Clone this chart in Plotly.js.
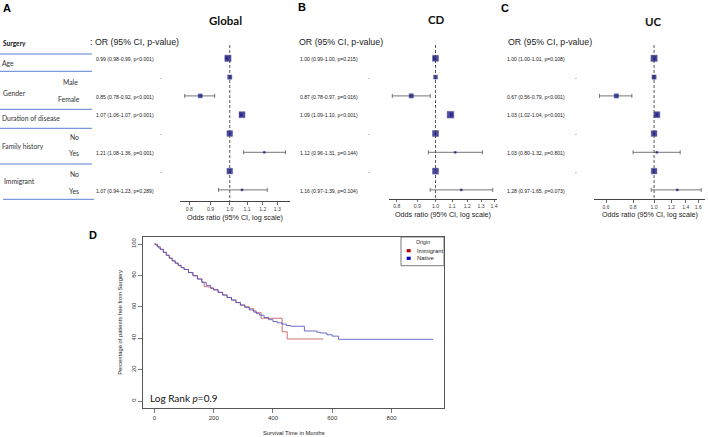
<!DOCTYPE html>
<html><head><meta charset="utf-8">
<script src="https://cdn.plot.ly/plotly-3.0.1.min.js"></script>
<style>html,body{margin:0;padding:0;background:#fff}#chart{width:708px;height:437px}</style>
</head><body><div id="chart"></div>
<script>
// ---------------- DATA ----------------
const tableGroups = ['Age', 'Gender', 'Duration of disease', 'Family history', 'Immigrant'];
const tableLevels = ['Male', 'Female', 'No', 'Yes', 'No', 'Yes'];
const headerText = 'OR (95% CI, p-value)';

const orGlobal = [0.99, 1.00, 0.85, 1.07, 1.00, 1.21, 1.00, 1.07];
const loGlobal = [0.98, null, 0.78, 1.06, null, 1.08, null, 0.94];
const hiGlobal = [0.99, null, 0.92, 1.07, null, 1.36, null, 1.23];
const pGlobal  = ['p<0.001', null, 'p<0.001', 'p<0.001', null, 'p=0.001', null, 'p=0.289'];

const orCD = [1.00, 1.00, 0.87, 1.09, 1.00, 1.12, 1.00, 1.16];
const loCD = [0.99, null, 0.78, 1.09, null, 0.96, null, 0.97];
const hiCD = [1.00, null, 0.97, 1.10, null, 1.31, null, 1.39];
const pCD  = ['p=0.215', null, 'p=0.016', 'p<0.001', null, 'p=0.144', null, 'p=0.104'];

const orUC = [1.00, 1.00, 0.67, 1.03, 1.00, 1.03, 1.00, 1.28];
const loUC = [1.00, null, 0.56, 1.02, null, 0.80, null, 0.97];
const hiUC = [1.01, null, 0.79, 1.04, null, 1.32, null, 1.65];
const pUC  = ['p=0.108', null, 'p<0.001', 'p<0.001', null, 'p=0.801', null, 'p=0.073'];

const ticksGlobal = [0.8, 0.9, 1.0, 1.1, 1.2, 1.3];
const ticksCD = [0.8, 0.9, 1.0, 1.1, 1.2, 1.3, 1.4];
const ticksUC = [0.6, 0.8, 1.0, 1.2, 1.4, 1.6];

const nativeT = [0,5,10,15,20,30,40,50,60,70,80,90,100,115,130,145,160,175,190,200,215,230,245,260,275,290,305,320,335,345,355,370,385,400,415,430,445,460,506,548,560,582,600,621,941];
const nativeS = [100,99.2,98.3,97.4,96.6,94.7,92.8,91.0,89.3,87.8,86.4,85.0,83.8,81.8,79.8,77.7,75.6,73.6,72.0,70.9,69.2,67.5,65.9,64.3,62.7,61.1,59.6,58.0,56.6,55.6,54.6,53.2,51.8,50.6,49.8,49.0,48.1,47.6,44.6,43.8,43.3,42.2,41.3,39.3,39.3];
const immT = [0,10,20,30,40,50,60,70,80,90,100,115,130,145,160,168,180,190,200,215,230,245,260,275,290,305,320,335,343,360,431,448,569];
const immS = [100,98.3,96.6,94.7,92.8,91.0,89.3,87.8,86.4,85.0,83.8,81.8,79.8,77.7,75.6,72.8,72.6,71.6,70.7,69.2,67.5,65.9,64.3,62.7,61.1,60.0,58.8,57.4,56.2,52.7,44.1,39.5,39.5];
const survXTicks = [0, 200, 400, 600, 800];
const survYTicks = [0, 20, 40, 60, 80, 100];
const originNames = ['Immigrant', 'Native'];

// ---------------- LAYOUT HELPERS ----------------
const W = 708, H = 437;
const PX = x => x / W;
const PY = y => 1 - y / H;
const rowPx0 = 58.3, rowStep = 18.8;
const rowIdx = orGlobal.map((_, i) => i);

const annotations = [];
const shapes = [];
function ann(text, x, y, o) {
  o = o || {};
  annotations.push(Object.assign({
    text: text, x: PX(x), y: PY(y), xref: 'paper', yref: 'paper',
    xanchor: 'left', yanchor: 'middle', showarrow: false, borderpad: 0,
    font: {family: 'Liberation Sans, Arial', size: 6, color: '#222'}
  }, o));
}

const panels = [
  {or: orGlobal, lo: loGlobal, hi: hiGlobal, p: pGlobal, ticks: ticksGlobal, ax: 'x', key: 'xaxis',
   dom: [180, 290], tA: [0.8, 189.3], tB: [1.3, 277.3], axisY: 201, title: 'Global', titleXY: [225, 21],
   letter: 'A', letterXY: [7, 8], header: ': ' + headerText, headerX: 89, valX: 95, dashX: 161,
   box: [6.3, 4.3, 4, 6, 5.7, 2, 5.7, 2], xtitleXY: [235, 217]},
  {or: orCD, lo: loCD, hi: hiCD, p: pCD, ticks: ticksCD, ax: 'x2', key: 'xaxis2',
   dom: [389.3, 496.7], tA: [0.8, 396.7], tB: [1.4, 494], axisY: 198.5, title: 'CD', titleXY: [436, 20],
   letter: 'B', letterXY: [301.7, 7], header: headerText, headerX: 298, valX: 299, dashX: 369,
   box: [6, 4, 4.3, 6.7, 6, 2, 6, 2], xtitleXY: [443, 214]},
  {or: orUC, lo: loUC, hi: hiUC, p: pUC, ticks: ticksUC, ax: 'x3', key: 'xaxis3',
   dom: [594, 705], tA: [0.6, 606], tB: [1.6, 698.3], axisY: 199.3, title: 'UC', titleXY: [653.3, 22],
   letter: 'C', letterXY: [505, 8], header: headerText, headerX: 506.5, valX: 506, dashX: 575.7,
   box: [6.3, 4.3, 4.3, 6, 5.7, 2, 5.7, 2], xtitleXY: [649.7, 214]}
];

const traces = [];
const layout = {
  width: W, height: H, margin: {l: 0, r: 0, t: 0, b: 0},
  paper_bgcolor: '#fff', plot_bgcolor: 'rgba(0,0,0,0)', showlegend: false,
  font: {family: 'Liberation Sans, Arial', color: '#222'},
  yaxis: {domain: [0, 1], range: [(H - rowPx0) / rowStep, -rowPx0 / rowStep], visible: false, fixedrange: true}
};

panels.forEach(pn => {
  const dec = (pn.tB[1] - pn.tA[1]) / (Math.log10(pn.tB[0]) - Math.log10(pn.tA[0]));
  const r0 = Math.log10(pn.tA[0]) - (pn.tA[1] - pn.dom[0]) / dec;
  const r1 = Math.log10(pn.tB[0]) + (pn.dom[1] - pn.tB[1]) / dec;
  layout[pn.key] = {
    type: 'log', range: [r0, r1], domain: [PX(pn.dom[0]), PX(pn.dom[1])],
    anchor: 'free', position: PY(pn.axisY), showline: true, linecolor: '#444', linewidth: 1,
    ticks: 'outside', ticklen: 2.5, tickwidth: 0.8, tickcolor: '#444',
    tickvals: pn.ticks, ticktext: pn.ticks.map(v => v.toFixed(1)),
    tickfont: {size: 5.1, color: '#444'}, showgrid: false, zeroline: false, fixedrange: true
  };
  traces.push({
    type: 'scatter', mode: 'markers', x: pn.or, y: rowIdx, xaxis: pn.ax, yaxis: 'y',
    marker: {symbol: 'square', size: pn.box, color: '#000080', line: {color: '#000060', width: 0.4}},
    error_x: {type: 'data', symmetric: false,
      array: pn.or.map((v, i) => pn.hi[i] == null ? 0 : pn.hi[i] - v),
      arrayminus: pn.or.map((v, i) => pn.lo[i] == null ? 0 : v - pn.lo[i]),
      color: '#666', thickness: 0.9, width: 2},
    hoverinfo: 'skip', cliponaxis: false
  });
  shapes.push({type: 'line', xref: pn.ax, yref: 'paper', x0: 1, x1: 1, y0: PY(45), y1: PY(pn.axisY),
    line: {color: '#444', width: 0.9, dash: '3px,2px'}});
  ann('<b>' + pn.title + '</b>', pn.titleXY[0], pn.titleXY[1], {xanchor: 'center', font: {family: 'Lato', size: 11.5, color: '#111'}});
  ann('<b>' + pn.letter + '</b>', pn.letterXY[0], pn.letterXY[1], {xanchor: 'center', font: {family: 'Liberation Sans, Arial', size: 11, color: '#000'}});
  ann(pn.header, pn.headerX, 42, {font: {family: 'Liberation Sans, Arial', size: 8.8, color: '#222'}});
  ann('Odds ratio (95% CI, log scale)', pn.xtitleXY[0], pn.xtitleXY[1], {xanchor: 'center', font: {family: 'Liberation Sans, Arial', size: 7.2, color: '#222'}});
  pn.or.forEach((v, i) => {
    const yy = rowPx0 + rowStep * i + 0.7;
    if (pn.lo[i] == null) {
      ann('-', pn.dashX, yy, {xanchor: 'center', font: {family: 'Liberation Sans, Arial', size: 5.2, color: '#222'}});
    } else {
      const t = v.toFixed(2) + ' (' + pn.lo[i].toFixed(2) + '-' + pn.hi[i].toFixed(2) + ', ' + pn.p[i].replace('<', '&lt;') + ')';
      ann(t, pn.valX, yy, {font: {family: 'Liberation Sans, Arial', size: 5.1, color: '#222'}});
    }
  });
});

// ---- left table ----
const tf = {family: 'Lato', size: 6.8, color: '#333'};
ann('<b>Surgery</b>', 2, 42.7, {font: {family: 'Lato', size: 6.6, color: '#111'}});
const groupXY = [[1, 63.3], [2, 93], [1, 118], [1, 146], [3, 181.3]];
tableGroups.forEach((g, i) => ann(g, groupXY[i][0], groupXY[i][1], {font: tf}));
const levelXY = [[79, 81.7], [80.7, 99], [80, 136.7], [80, 153.3], [80, 173.7], [80, 190.7]];
tableLevels.forEach((g, i) => ann(g, levelXY[i][0], levelXY[i][1], {xanchor: 'right', font: tf}));
[[0, 92, 54], [0, 92, 71.3], [0, 92, 109.3], [0, 92, 128.3], [0, 92, 164], [3, 94, 199.3]].forEach(l => {
  shapes.push({type: 'line', xref: 'paper', yref: 'paper', x0: PX(l[0]), x1: PX(l[1]), y0: PY(l[2]), y1: PY(l[2]),
    line: {color: '#5b7fd1', width: 1}});
});

// ---- survival plot ----
traces.push({type: 'scatter', mode: 'lines', x: immT, y: immS, xaxis: 'x4', yaxis: 'y4', name: originNames[0],
  line: {shape: 'hv', color: '#c45c5c', width: 1}, opacity: 0.85, hoverinfo: 'skip'});
traces.push({type: 'scatter', mode: 'lines', x: nativeT, y: nativeS, xaxis: 'x4', yaxis: 'y4', name: originNames[1],
  line: {shape: 'hv', color: '#4848c0', width: 1}, opacity: 0.8, hoverinfo: 'skip'});

const axCommon = {showline: true, mirror: true, linecolor: '#555', linewidth: 1, ticks: 'outside', ticklen: 4,
  tickwidth: 0.8, tickcolor: '#555', tickfont: {size: 6, color: '#333'}, showgrid: false, zeroline: false, fixedrange: true};
layout.xaxis4 = Object.assign({}, axCommon, {domain: [PX(143.3), PX(444)], range: [-37.6, 977], anchor: 'y4', tickvals: survXTicks});
layout.yaxis4 = Object.assign({}, axCommon, {domain: [PY(408), PY(237)], range: [-4.46, 104.46], anchor: 'x4', tickvals: survYTicks, tickangle: -90});

ann('<b>D</b>', 93, 235, {xanchor: 'center', font: {family: 'Liberation Sans, Arial', size: 11, color: '#000'}});
ann('Survival Time in Months', 293.5, 433, {xanchor: 'center', font: {family: 'Liberation Sans, Arial', size: 5.8, color: '#222'}});
ann('Percentage of patients free from Surgery', 119.3, 322.5, {xanchor: 'center', textangle: -90, font: {family: 'Liberation Sans, Arial', size: 5.8, color: '#222'}});
ann('Log Rank <i>p</i>=0.9', 148.5, 397.7, {font: {family: 'Lato', size: 10, color: '#111'}});

// legend box (manual, R-style)
shapes.push({type: 'rect', xref: 'paper', yref: 'paper', x0: PX(401), x1: PX(444), y0: PY(265.7), y1: PY(237),
  line: {color: '#555', width: 0.8}, fillcolor: '#fff'});
ann('Origin', 422.7, 241.7, {xanchor: 'center', font: {family: 'Liberation Sans, Arial', size: 5.3, color: '#222'}});
const legCols = ['#c00000', '#0000cc'];
const legY = [250.7, 258.3];
originNames.forEach((nm, i) => {
  shapes.push({type: 'rect', xref: 'paper', yref: 'paper', x0: PX(406.7), x1: PX(410.7), y0: PY(legY[i] + 1.6), y1: PY(legY[i] - 1.6),
    line: {width: 0}, fillcolor: legCols[i]});
  ann(nm, 415.7, legY[i], {font: {family: 'Liberation Sans, Arial', size: 5.9, color: '#222'}});
});

layout.annotations = annotations;
layout.shapes = shapes;
Plotly.newPlot('chart', traces, layout, {staticPlot: true, displayModeBar: false});
</script>
</body></html>
